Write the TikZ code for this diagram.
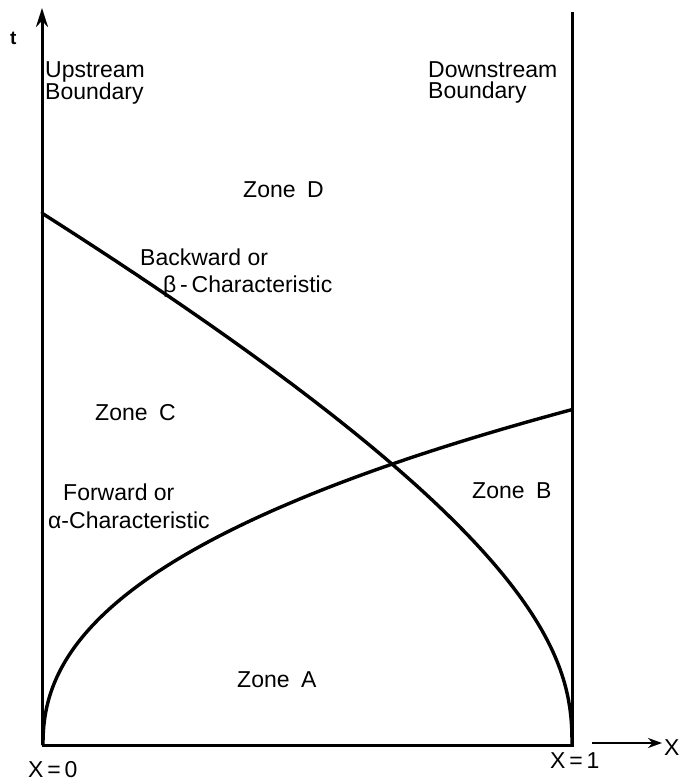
\documentclass[tikz,border=0pt]{standalone}
\usepackage{fontspec}
\setmainfont{Liberation Sans}
\usetikzlibrary{arrows.meta}
\begin{document}
\begin{tikzpicture}[x=1pt,y=-1pt,
  axisline/.style={line width=3pt},
  charline/.style={line width=3.4pt, line join=round, line cap=round},
  lbl/.style={anchor=base west, inner sep=0pt, font=\fontsize{23}{21}\selectfont},
  twoline/.style={anchor=north west, inner sep=0pt, align=left, font=\fontsize{23}{21}\selectfont},
  tstyle/.style={anchor=base west, inner sep=0pt, font=\fontsize{19}{19}\selectfont\bfseries},
]
\useasboundingbox (0,0) rectangle (681,782);
% axes and boundaries
\coordinate (O) at (42,745);
\coordinate (Ttop) at (42,8);
\coordinate (R) at (572,745);
\coordinate (Rtop) at (572,12);
\draw[axisline, -{Stealth[length=19pt,width=12pt]}] (O) -- (Ttop);
\draw[axisline] (O) -- (R) -- (Rtop);
\coordinate (Xs) at (592,743);
\coordinate (Xe) at (662,743);
\draw[line width=2.6pt, -{Stealth[length=14pt,width=10pt]}] (Xs) -- (Xe);

% forward (alpha) characteristic
\draw[charline] (43,745) -- plot[domain=0.02:23, samples=160]
  ({43+\x*\x}, {745 - 20.9*(\x)^0.9 + 0.03*\x*\x});
% backward (beta) characteristic
\draw[charline] (572,745) -- plot[domain=0.02:23.02, samples=160]
  ({572-\x*\x}, {745 - 26.36*(\x)^0.8 - 0.392*\x*\x});

% labels
\node[tstyle] (tlab) at (10,44) {t};
\node[twoline] (up) at (45,61) {Upstream\\Boundary};
\node[twoline] (dn) at (428,61) {Downstream\\Boundary};
\node[lbl] (zd) at (243,197) {Zone\hspace{0.5em}D};
\node[lbl] (bk1) at (140,265) {Backward or};
\node[lbl] (bk2) at (163,292) {β\,-\,Characteristic};
\node[lbl] (zc) at (95,420) {Zone\hspace{0.5em}C};
\node[lbl] (fw1) at (63,500) {Forward or};
\node[lbl] (fw2) at (48,528) {α-Characteristic};
\node[lbl] (zb) at (472,498) {Zone\hspace{0.5em}B};
\node[lbl] (za) at (237,687) {Zone\hspace{0.5em}A};
\node[lbl] (x0) at (28,777) {X\,=\,0};
\node[lbl] (x1) at (550,768) {X\,=\,1};
\node[lbl] (xl) at (664,755) {X};
\end{tikzpicture}
\end{document}
